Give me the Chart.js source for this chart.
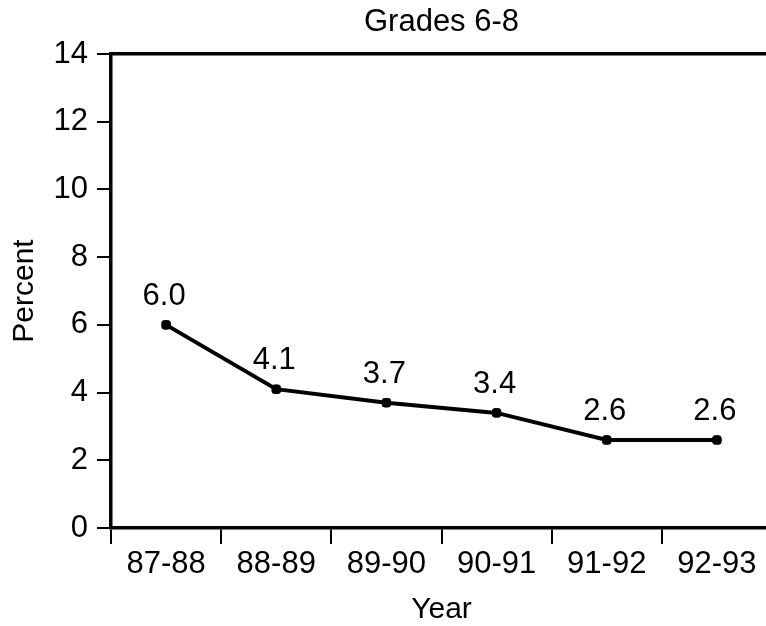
<!DOCTYPE html>
<html>
<head>
<meta charset="utf-8">
<script src="https://cdn.jsdelivr.net/npm/chart.js@4/dist/chart.umd.min.js"></script>
<style>
  html, body { margin: 0; padding: 0; background: #fff; overflow: hidden; }
  #wrap { width: 790px; height: 626px; }
</style>
</head>
<body>
<div id="wrap"><canvas id="c" width="790" height="626"></canvas></div>
<script>
const chartTitle = "Grades 6-8";
const categories = ["87-88", "88-89", "89-90", "90-91", "91-92", "92-93"];
const percentValues = [6.0, 4.1, 3.7, 3.4, 2.6, 2.6];
const valueLabels = ["6.0", "4.1", "3.7", "3.4", "2.6", "2.6"];
const yTicks = [0, 2, 4, 6, 8, 10, 12, 14];
const xAxisTitle = "Year";
const yAxisTitle = "Percent";

const FONT = "'Liberation Sans', Arial, Helvetica, sans-serif";

const valueLabelPlugin = {
  id: 'valueLabels',
  afterDatasetsDraw(chart) {
    const ctx = chart.ctx;
    const meta = chart.getDatasetMeta(0);
    ctx.save();
    ctx.font = "31px " + FONT;
    ctx.fillStyle = "#000";
    ctx.textAlign = "center";
    ctx.textBaseline = "alphabetic";
    meta.data.forEach((pt, i) => {
      ctx.fillText(valueLabels[i], pt.x - 2, pt.y - 20);
    });
    ctx.restore();
  }
};

new Chart(document.getElementById('c'), {
  type: 'line',
  data: {
    labels: categories,
    datasets: [{
      data: percentValues,
      borderColor: '#000',
      backgroundColor: '#000',
      borderWidth: 4,
      pointStyle: 'rectRounded',
      pointRadius: 5,
      pointBorderWidth: 1,
      tension: 0,
      fill: false
    }]
  },
  options: {
    responsive: false,
    animation: false,
    devicePixelRatio: 1,
    layout: { padding: { left: 0, right: 18, top: 0, bottom: 0 } },
    plugins: {
      legend: { display: false },
      tooltip: { enabled: false },
      title: { display: false }
    },
    scales: {
      x: {
        type: 'category',
        position: 'bottom',
        offset: true,
        grid: {
          display: true,
          offset: true,
          drawOnChartArea: false,
          drawTicks: true,
          tickLength: 16,
          color: '#000',
          lineWidth: 2
        },
        border: { display: true, color: '#000', width: 3.5 },
        ticks: {
          color: '#000',
          font: { family: FONT, size: 31 },
          padding: 2,
          maxRotation: 0,
          autoSkip: false
        },
        title: {
          display: true,
          text: xAxisTitle,
          color: '#000',
          font: { family: FONT, size: 30, lineHeight: 1 },
          padding: { top: 0, bottom: 1 }
        },
        afterFit(scale) { scale.height = 98; }
      },
      x2: {
        type: 'category',
        position: 'top',
        labels: categories,
        grid: { display: false },
        ticks: { display: false },
        border: { display: true, color: '#000', width: 3.5 },
        title: {
          display: true,
          text: chartTitle,
          color: '#000',
          font: { family: FONT, size: 31, lineHeight: 1.2 },
          padding: { top: 4, bottom: 0 }
        },
        afterFit(scale) { scale.height = 54; }
      },
      y: {
        min: 0,
        max: 14,
        afterBuildTicks(scale) { scale.ticks = yTicks.map(v => ({ value: v })); },
        grid: {
          display: true,
          drawOnChartArea: false,
          drawTicks: true,
          tickLength: 14,
          color: '#000',
          lineWidth: 2
        },
        border: { display: true, color: '#000', width: 3.5 },
        ticks: {
          color: '#000',
          font: { family: FONT, size: 31 },
          padding: 9
        },
        title: {
          display: true,
          text: yAxisTitle,
          color: '#000',
          font: { family: FONT, size: 30, lineHeight: 1 },
          padding: { top: 10, bottom: 0 }
        },
        afterFit(scale) { scale.width = 111; }
      }
    }
  },
  plugins: [valueLabelPlugin]
});
</script>
</body>
</html>
